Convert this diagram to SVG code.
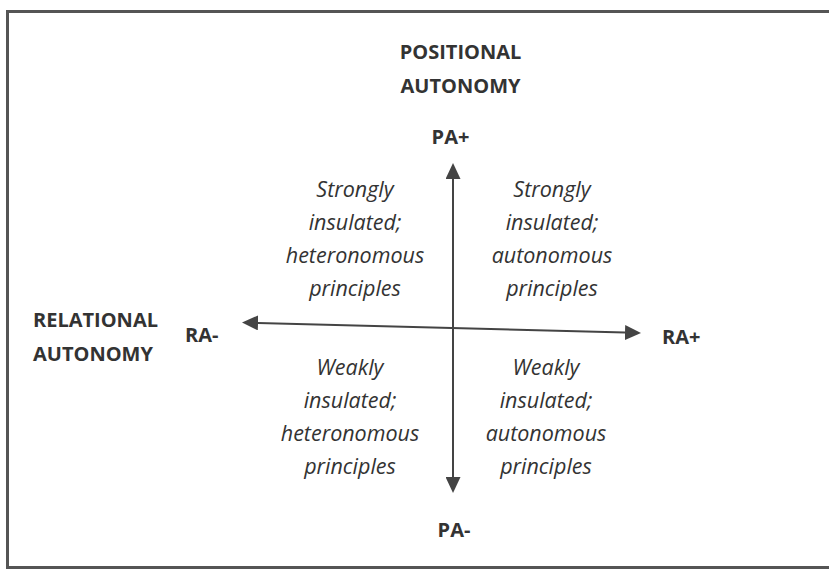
<svg xmlns="http://www.w3.org/2000/svg" width="829" height="570" viewBox="0 0 829 570">
  <style>
    .lbl { font-family: "Open Sans", "Liberation Sans", sans-serif; font-weight: bold; font-size: 20px; fill: #333; }
    .q { font-family: "Open Sans", "Liberation Sans", sans-serif; font-style: italic; font-size: 21.5px; fill: #333; text-anchor: middle; }
    .mid { text-anchor: middle; }
    .axis { stroke: #444; stroke-width: 2; fill: none; }
  </style>
  <defs>
    <marker id="head" markerUnits="userSpaceOnUse" markerWidth="16" markerHeight="15" refX="0" refY="7.5" orient="auto-start-reverse">
      <path d="M0,0 L16,7.5 L0,15 Z" fill="#444"/>
    </marker>
  </defs>
  <rect x="7.5" y="11.5" width="840" height="556" fill="#fff" stroke="#555" stroke-width="3"/>

  <g id="connectors">
    <line class="axis" x1="453" y1="179" x2="453" y2="477" marker-start="url(#head)" marker-end="url(#head)"/>
    <line class="axis" x1="258" y1="322.9" x2="625" y2="332.6" marker-start="url(#head)" marker-end="url(#head)"/>
  </g>

  <g id="positional-autonomy">
    <text class="lbl mid" x="460.5" y="59">POSITIONAL</text>
    <text class="lbl mid" x="460.5" y="93">AUTONOMY</text>
  </g>
  <g id="pa-plus"><text class="lbl mid" x="450.5" y="144">PA+</text></g>
  <g id="pa-minus"><text class="lbl mid" x="454" y="537">PA-</text></g>
  <g id="relational-autonomy">
    <text class="lbl" x="33" y="327">RELATIONAL</text>
    <text class="lbl" x="33" y="361">AUTONOMY</text>
  </g>
  <g id="ra-minus"><text class="lbl" x="185" y="342">RA-</text></g>
  <g id="ra-plus"><text class="lbl" x="662" y="344">RA+</text></g>

  <g id="q-top-left">
    <text class="q" x="355" y="197">Strongly</text>
    <text class="q" x="355" y="230">insulated;</text>
    <text class="q" x="355" y="263">heteronomous</text>
    <text class="q" x="355" y="296">principles</text>
  </g>
  <g id="q-top-right">
    <text class="q" x="552" y="197">Strongly</text>
    <text class="q" x="552" y="230">insulated;</text>
    <text class="q" x="552" y="263">autonomous</text>
    <text class="q" x="552" y="296">principles</text>
  </g>
  <g id="q-bottom-left">
    <text class="q" x="350" y="375">Weakly</text>
    <text class="q" x="350" y="408">insulated;</text>
    <text class="q" x="350" y="441">heteronomous</text>
    <text class="q" x="350" y="474">principles</text>
  </g>
  <g id="q-bottom-right">
    <text class="q" x="546" y="375">Weakly</text>
    <text class="q" x="546" y="408">insulated;</text>
    <text class="q" x="546" y="441">autonomous</text>
    <text class="q" x="546" y="474">principles</text>
  </g>
</svg>
